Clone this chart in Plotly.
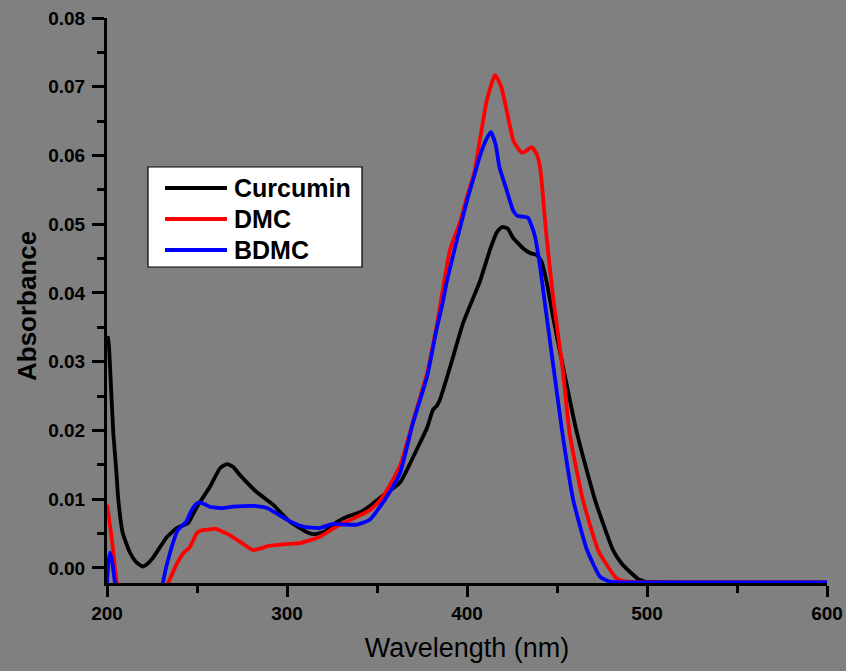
import plotly.graph_objects as go

# ---------------- data ----------------
series_names = ["Curcumin", "DMC", "BDMC"]
series_colors = ["#000000", "#ff0000", "#0000ff"]

curcumin_wl = [200, 200.6, 201.7, 203.5, 205, 206.3, 208.7, 212.8, 216, 219.8, 222.5,
               225.6, 229.4, 233.3, 238.9, 245, 250, 257.2, 262.8, 266.7, 270,
               273.9, 283.3, 292.2, 301.7, 311.1, 315.6, 321, 327.8, 334, 340.6,
               346, 351.7, 357, 362.8, 366.7, 373.9, 378, 381.1, 383.3, 385,
               390.6, 397.8, 403, 407.2, 412.8, 416.5, 419.4, 422.5, 425.6, 428.5,
               431.1, 435, 438.9, 441.5, 444.4, 447.8, 453.3, 461.1, 471.1, 481.1,
               486, 490.6, 495, 498.9, 520, 560, 600]
curcumin_abs = [0.0335, 0.0335, 0.0292, 0.0196, 0.0147, 0.0099, 0.0051, 0.0022, 0.0009, 0.0002, 0.0006,
                0.0015, 0.0030, 0.0045, 0.0058, 0.0065, 0.0089, 0.0118, 0.0145, 0.0151, 0.0147,
                0.0135, 0.0110, 0.0092, 0.0067, 0.0052, 0.0049, 0.0053, 0.0067, 0.0075, 0.0081,
                0.0090, 0.0102, 0.0112, 0.0124, 0.0143, 0.0182, 0.0205, 0.0230, 0.0236, 0.0245,
                0.0292, 0.0356, 0.0390, 0.0417, 0.0463, 0.0488, 0.0496, 0.0494, 0.0480, 0.0472,
                0.0465, 0.0458, 0.0455, 0.0445, 0.0414, 0.0365, 0.0293, 0.0196, 0.0099, 0.0026,
                0.0006, -0.0006, -0.0016, -0.0020, -0.0021, -0.0021, -0.0021]

dmc_wl = [200, 202.8, 205.5, 210, 228, 234, 239, 243, 246, 250, 253, 257, 260,
          268, 275, 281, 285, 290, 302, 307, 318, 328, 337, 346, 352, 356,
          363, 370, 378, 383, 390.6, 396, 400, 404, 407, 411, 415.6, 419,
          422, 426, 430.6, 433, 436, 438.5, 440.6, 444, 448, 453, 457, 464.4,
          472.8, 478, 483, 489, 520, 560, 600]
dmc_abs = [0.0092, 0.0040, -0.0022, -0.0060, -0.0060, -0.0022, 0.0007, 0.0023, 0.0030, 0.0051, 0.0055, 0.0056, 0.0057,
           0.0048, 0.0036, 0.0026, 0.0028, 0.0032, 0.0035, 0.0036, 0.0045, 0.0061, 0.0072, 0.0084, 0.0099, 0.0115,
           0.0150, 0.0213, 0.0285, 0.0350, 0.0463, 0.0502, 0.0540, 0.0575, 0.0620, 0.0680, 0.0717, 0.0700,
           0.0666, 0.0620, 0.0604, 0.0607, 0.0612, 0.0603, 0.0583, 0.0487, 0.0390, 0.0293, 0.0196, 0.0099,
           0.0026, 0.0003, -0.0015, -0.0020, -0.0021, -0.0021, -0.0021]

bdmc_wl = [200, 200.8, 201.7, 202.8, 204.4, 206, 229, 231, 235, 239.4, 244, 247, 250,
           251.7, 254, 257, 264, 270, 283, 289, 293, 298, 303, 309, 318, 325.6,
           332, 339, 346, 351.7, 357, 362.8, 370, 377.8, 383, 386, 389, 394.4,
           400.6, 404, 407, 411, 413.3, 416, 418, 422, 425.6, 428, 431, 434,
           436, 437.8, 440.6, 443, 448, 453, 459, 466.7, 474, 479.4, 520, 560, 600]
bdmc_abs = [-0.0022, 0.0008, 0.0022, 0.0010, -0.0022, -0.0060, -0.0060, -0.0022, 0.0022, 0.0055, 0.0067, 0.0084, 0.0094,
            0.0095, 0.0093, 0.0089, 0.0087, 0.0089, 0.0090, 0.0087, 0.0081, 0.0073, 0.0066, 0.0060, 0.0058, 0.0064,
            0.0063, 0.0063, 0.0070, 0.0089, 0.0110, 0.0138, 0.0211, 0.0278, 0.0346, 0.0380, 0.0419, 0.0477,
            0.0540, 0.0570, 0.0598, 0.0625, 0.0634, 0.0615, 0.0583, 0.0550, 0.0520, 0.0512, 0.0511, 0.0509,
            0.0497, 0.0482, 0.0438, 0.0390, 0.0293, 0.0196, 0.0099, 0.0026, -0.0013, -0.0020, -0.0021, -0.0021, -0.0021]

x_tick_vals = [200, 300, 400, 500, 600]
y_tick_vals = [0.00, 0.01, 0.02, 0.03, 0.04, 0.05, 0.06, 0.07, 0.08]
x_label = "Wavelength (nm)"
y_label = "Absorbance"

# ---------------- figure ----------------
W, H = 846, 671
ML, MR, MT, MB = 107, 19, 18, 88
PW, PH = W - ML - MR, H - MT - MB
BG = "#808080"


def px_x(p):
    return (p - ML) / PW


def px_y(p):
    return (H - MB - p) / PH


fig = go.Figure()
all_x = [curcumin_wl, dmc_wl, bdmc_wl]
all_y = [curcumin_abs, dmc_abs, bdmc_abs]
for name, col, xs, ys in zip(series_names, series_colors, all_x, all_y):
    fig.add_trace(go.Scatter(x=xs, y=ys, mode="lines", name=name,
                             line=dict(color=col, width=3.8, shape="spline", smoothing=0.5),
                             showlegend=False))

font_main = "Liberation Sans, Arial, sans-serif"

fig.update_layout(
    width=W, height=H,
    margin=dict(l=ML, r=MR, t=MT, b=MB, pad=0, autoexpand=False),
    paper_bgcolor=BG, plot_bgcolor=BG,
    showlegend=False,
    font=dict(family=font_main, color="black"),
)

fig.update_xaxes(
    range=[200, 600], tickvals=x_tick_vals, ticktext=[str(v) for v in x_tick_vals],
    automargin=False,
    showgrid=False, zeroline=False,
    showline=True, linecolor="black", linewidth=3,
    ticks="outside", ticklen=11, tickwidth=3, tickcolor="black",
    minor=dict(dtick=50, tick0=200, ticks="outside", ticklen=7, tickwidth=3, tickcolor="black", showgrid=False),
    tickfont=dict(family=font_main, size=19, color="black", weight="bold"),
    title=dict(text=x_label, font=dict(family=font_main, size=27, color="black"), standoff=16),
)
fig.update_yaxes(
    range=[-0.0022, 0.08], tickvals=y_tick_vals, ticktext=["%.2f" % v for v in y_tick_vals],
    automargin=False,
    showgrid=False, zeroline=False,
    showline=True, linecolor="black", linewidth=3,
    ticks="outside", ticklen=12, tickwidth=3, tickcolor="black", ticklabelstandoff=3,
    minor=dict(dtick=0.005, tick0=0, ticks="outside", ticklen=7, tickwidth=3, tickcolor="black", showgrid=False),
    tickfont=dict(family=font_main, size=19, color="black", weight="bold"),
)

# ---------------- legend box (drawn like the original) ----------------
shapes = [dict(type="rect", xref="paper", yref="paper",
               x0=px_x(148), x1=px_x(362), y0=px_y(267), y1=px_y(167),
               fillcolor="white", line=dict(color="black", width=1.2), layer="above")]
annotations = [dict(xref="paper", yref="paper", x=px_x(27), y=px_y(306),
                    text=y_label, textangle=-90, showarrow=False,
                    xanchor="center", yanchor="middle",
                    font=dict(family=font_main, size=26, color="black", weight="bold"))]
legend_rows = [188, 219, 250]
for name, col, ry in zip(series_names, series_colors, legend_rows):
    shapes.append(dict(type="line", xref="paper", yref="paper",
                       x0=px_x(165), x1=px_x(227), y0=px_y(ry), y1=px_y(ry),
                       line=dict(color=col, width=4), layer="above"))
    annotations.append(dict(xref="paper", yref="paper", x=px_x(232), y=px_y(ry),
                            text=name, showarrow=False, xanchor="left", yanchor="middle",
                            font=dict(family=font_main, size=25, color="black", weight="bold")))
fig.update_layout(shapes=shapes, annotations=annotations)

fig.write_html("out.html",
               config={"displayModeBar": False},
               post_script="document.body.style.margin='0';document.body.style.background='%s';" % BG)
